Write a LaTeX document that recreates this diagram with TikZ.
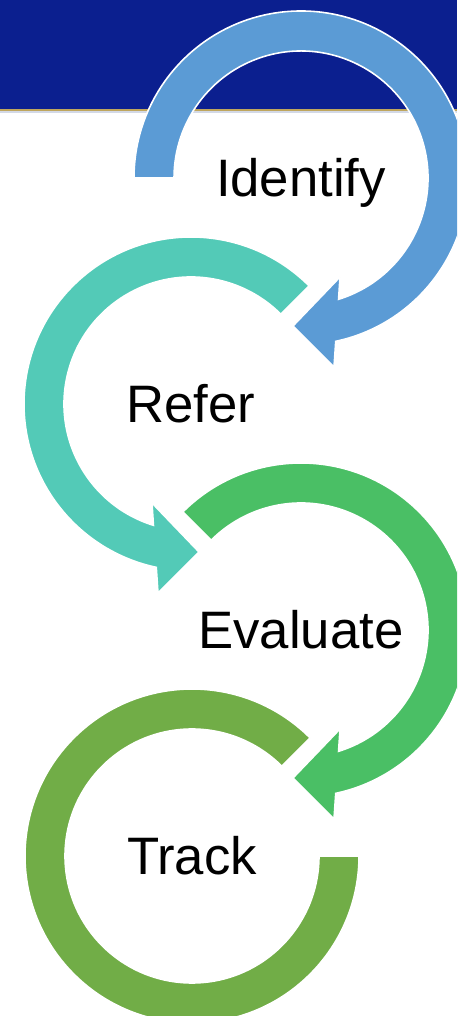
\documentclass[tikz,border=0pt]{standalone}
\usepackage{fontspec}
\setmainfont{Liberation Sans}
\usepackage{xcolor}
\usepackage{tikz}
\usetikzlibrary{calc}
\definecolor{navy}{HTML}{0B1F8F}
\definecolor{rule}{HTML}{BFA65E}
\definecolor{ruleb}{HTML}{D3D9E6}
\definecolor{idblue}{HTML}{5B9BD5}
\definecolor{refteal}{HTML}{53CAB7}
\definecolor{evgreen}{HTML}{4ABF65}
\definecolor{trgreen}{HTML}{71AD47}
\tikzset{
  ring/.style={draw=white, line width=0.9pt, line join=miter},
  word/.style={anchor=base, inner sep=0pt, text=black, font=\fontsize{30}{36}\selectfont},
}

\begin{document}
\begin{tikzpicture}[x=0.02cm,y=0.02cm]
  \def\ro{167}
  \def\ri{127}
  \useasboundingbox (0,0) rectangle (457,1016);
  \clip (0,0) rectangle (457,1016);
  \fill[white] (0,0) rectangle (457,1016);
  \fill[navy] (0,907) rectangle (457,1016);
  \fill[rule] (0,904.5) rectangle (457,907);
  \fill[ruleb] (0,903) rectangle (457,904.5);
  \coordinate (cId) at (301,838);
  \coordinate (cRe) at (191,612);
  \coordinate (cEv) at (301,386);
  \coordinate (cTr) at (192,160);
  \begin{scope}[shift={(cId)}]
    \fill[ring,fill=idblue] (180:\ro) arc[start angle=180,end angle=-78,radius=\ro]
      -- (33,-189) -- (-8,-148) -- (39,-99) -- (-72.8:\ri)
      arc[start angle=-72.8,end angle=180,radius=\ri] -- cycle;
  \end{scope}
  \begin{scope}[shift={(cRe)}]
    \fill[ring,fill=refteal] (45:\ro) arc[start angle=45,end angle=258,radius=\ro]
      -- (-33,-189) -- (8,-148) -- (-39,-99) -- (252.8:\ri)
      arc[start angle=252.8,end angle=45,radius=\ri] -- cycle;
  \end{scope}
  \begin{scope}[shift={(cEv)}]
    \fill[ring,fill=evgreen] (135:\ro) arc[start angle=135,end angle=-78,radius=\ro]
      -- (33,-189) -- (-8,-148) -- (39,-99) -- (-72.8:\ri)
      arc[start angle=-72.8,end angle=135,radius=\ri] -- cycle;
  \end{scope}
  \begin{scope}[shift={(cTr)}]
    \fill[ring,fill=trgreen] (45:\ro) arc[start angle=45,end angle=360,radius=\ro]
      -- (0:\ri) arc[start angle=360,end angle=45,radius=\ri] -- cycle;
  \end{scope}
  \node[word] (identify) at ($(cId)+(0,-19)$) {Identify};
  \node[word] (refer) at ($(cRe)+(0,-19)$) {Refer};
  \node[word] (evaluate) at ($(cEv)+(0,-19)$) {Evaluate};
  \node[word] (track) at ($(cTr)+(0,-19)$) {Track};
\end{tikzpicture}
\end{document}
